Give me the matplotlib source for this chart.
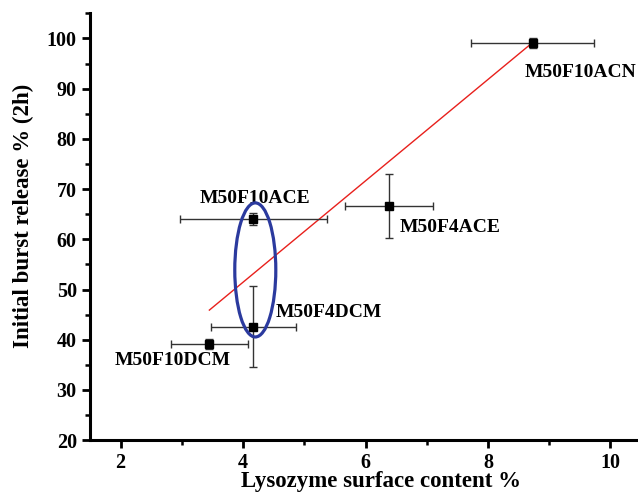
import numpy as np
import matplotlib.pyplot as plt
from matplotlib.patches import Ellipse
from matplotlib.ticker import MultipleLocator

# surface content (x) vs burst release (y), with errors
names = ['M50F10DCM', 'M50F4DCM', 'M50F10ACE', 'M50F4ACE', 'M50F10ACN']
surface = [3.45, 4.17, 4.17, 6.39, 8.73]
surface_err = [0.63, 0.69, 1.2, 0.72, 1.0]
burst = [39.2, 42.6, 64.1, 66.7, 99.1]
burst_err = [1.0, 8.1, 1.2, 6.4, 1.0]

# drawn fit line endpoints
fit_x = [3.45, 8.73]
fit_y = [45.9, 99.2]

# label positions in data units and alignment
label_pos = [(2.85, 35.9, 'center'), (4.53, 45.5, 'left'),
             (4.19, 68.2, 'center'), (6.56, 62.4, 'left'),
             (8.6, 93.2, 'left')]

plt.rcParams['font.family'] = ['Liberation Serif', 'DejaVu Serif']
plt.rcParams['font.weight'] = 'bold'

fig = plt.figure(figsize=(6.38, 4.94), dpi=100)
ax = fig.add_axes([0.141, 0.109, 0.859, 0.864])

ax.plot(fit_x, fit_y, color='#e8201c', lw=1.0, zorder=2)
ax.errorbar(surface, burst, xerr=surface_err, yerr=burst_err, fmt='s',
            color='black', ms=5.8, ecolor='#333333', elinewidth=1.0,
            capsize=3, capthick=1.0, zorder=3)

for name, (lx, ly, ha) in zip(names, label_pos):
    ax.text(lx, ly, name, fontsize=14, fontweight='bold', ha=ha, va='center')

ell = Ellipse((4.2, 53.9), 0.67, 26.7, fill=False, edgecolor='#2b3a9e', lw=2.3, zorder=4)
ax.add_patch(ell)

ax.set_xlim(1.5, 10.45)
ax.set_ylim(20, 105)
ax.xaxis.set_major_locator(MultipleLocator(2))
ax.xaxis.set_minor_locator(MultipleLocator(1))
ax.yaxis.set_major_locator(MultipleLocator(10))
ax.yaxis.set_minor_locator(MultipleLocator(5))
ax.set_yticks(np.arange(20, 101, 10))

for side in ['top', 'right']:
    ax.spines[side].set_visible(False)
for side in ['left', 'bottom']:
    ax.spines[side].set_linewidth(2.2)

ax.tick_params(which='major', direction='out', length=6, width=2, labelsize=14.5)
ax.tick_params(which='minor', direction='out', length=3.5, width=1.8)
for lab in ax.get_xticklabels() + ax.get_yticklabels():
    lab.set_fontweight('bold')

ax.set_xlabel('Lysozyme surface content %', fontsize=16.5, fontweight='bold')
ax.set_ylabel('Initial burst release % (2h)', fontsize=16.5, fontweight='bold')
ax.xaxis.set_label_coords(0.531, -0.073)
ax.yaxis.set_label_coords(-0.102, 0.525)

fig.savefig('out.png', dpi=100)
